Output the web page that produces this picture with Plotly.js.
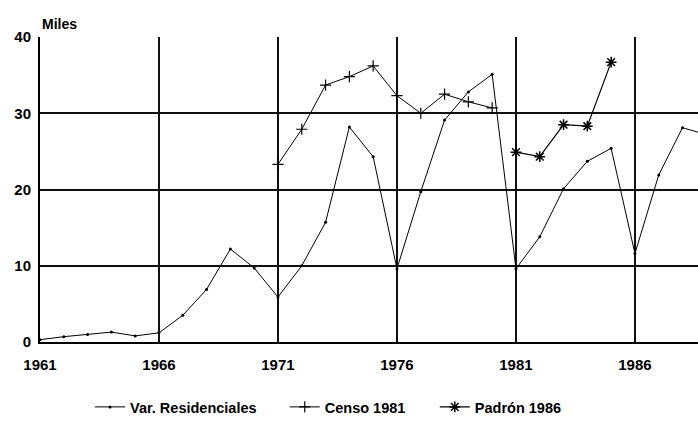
<!DOCTYPE html>
<html>
<head>
<meta charset="utf-8">
<script src="https://cdn.plot.ly/plotly-3.0.1.min.js"></script>
<style>html,body{margin:0;padding:0;background:#fff;}</style>
</head>
<body>
<div id="chart" style="width:698px;height:439px;"></div>
<script>
const resYears = [1961,1962,1963,1964,1965,1966,1967,1968,1969,1970,1971,1972,1973,1974,1975,1976,1977,1978,1979,1980,1981,1982,1983,1984,1985,1986,1987,1988,1989];
const resValues = [0.3,0.7,1.0,1.3,0.8,1.2,3.5,6.9,12.2,9.7,5.9,10.0,15.7,28.2,24.3,9.6,19.7,29.1,32.8,35.1,9.6,13.8,20.1,23.7,25.4,11.6,21.9,28.1,27.2];
const censoYears = [1971,1972,1973,1974,1975,1976,1977,1978,1979,1980];
const censoValues = [23.3,27.9,33.7,34.8,36.2,32.3,30.0,32.5,31.5,30.7];
const padronYears = [1981,1982,1983,1984,1985];
const padronValues = [24.9,24.3,28.5,28.3,36.7];
const seriesNames = ['Var. Residenciales','Censo 1981','Padrón 1986'];
const xTicks = [1961,1966,1971,1976,1981,1986];
const yTicks = [0,10,20,30,40];

const font = 'Liberation Sans, Arial, sans-serif';
const traces = [
  {x: resYears, y: resValues, name: seriesNames[0], mode: 'lines+markers', legend: 'legend',
   line: {color: '#000', width: 1}, marker: {symbol: 'circle', size: 3, color: '#000'}},
  {x: censoYears, y: censoValues, name: seriesNames[1], mode: 'lines+markers', legend: 'legend2',
   line: {color: '#000', width: 1}, marker: {symbol: 'cross-thin', size: 8, line: {color: '#000', width: 1.2}}},
  {x: padronYears, y: padronValues, name: seriesNames[2], mode: 'lines+markers', legend: 'legend3',
   line: {color: '#000', width: 1.2}, marker: {symbol: 'asterisk', size: 9, line: {color: '#000', width: 1.5}}}
];
const legFont = {family: font, size: 14.5, color: '#000', weight: 'bold'};
function leg(x) {
  return {orientation: 'h', x: x, xanchor: 'left', y: -0.213, yanchor: 'middle',
    font: legFont, bgcolor: 'rgba(0,0,0,0)'};
}
const layout = {
  width: 698, height: 439,
  margin: {l: 40, r: 0, t: 37, b: 97},
  paper_bgcolor: '#fff', plot_bgcolor: '#fff',
  showlegend: true,
  font: {family: font, color: '#000'},
  xaxis: {range: [1961, 1988.65], tickvals: xTicks, ticktext: xTicks.map(String),
    showgrid: true, gridcolor: '#111', gridwidth: 2, zeroline: false,
    showline: true, linecolor: '#000', linewidth: 2, ticks: '', ticklabelstandoff: 8,
    tickfont: {family: font, size: 15, color: '#000', weight: 'bold'}},
  yaxis: {range: [0, 40], tickvals: yTicks, ticktext: yTicks.map(String),
    showgrid: true, gridcolor: '#111', gridwidth: 2, zeroline: false,
    showline: true, linecolor: '#000', linewidth: 2, ticks: '', ticklabelstandoff: 4,
    tickfont: {family: font, size: 15, color: '#000', weight: 'bold'}},
  legend: leg(0.076),
  legend2: leg(0.372),
  legend3: leg(0.600),
  annotations: [{text: 'Miles', xref: 'paper', yref: 'paper', x: 0, y: 1, xanchor: 'left', yanchor: 'bottom',
    yshift: 3, showarrow: false, font: {family: font, size: 14, color: '#000', weight: 'bold'}}]
};
Plotly.newPlot('chart', traces, layout, {displayModeBar: false, staticPlot: true});
</script>
</body>
</html>
